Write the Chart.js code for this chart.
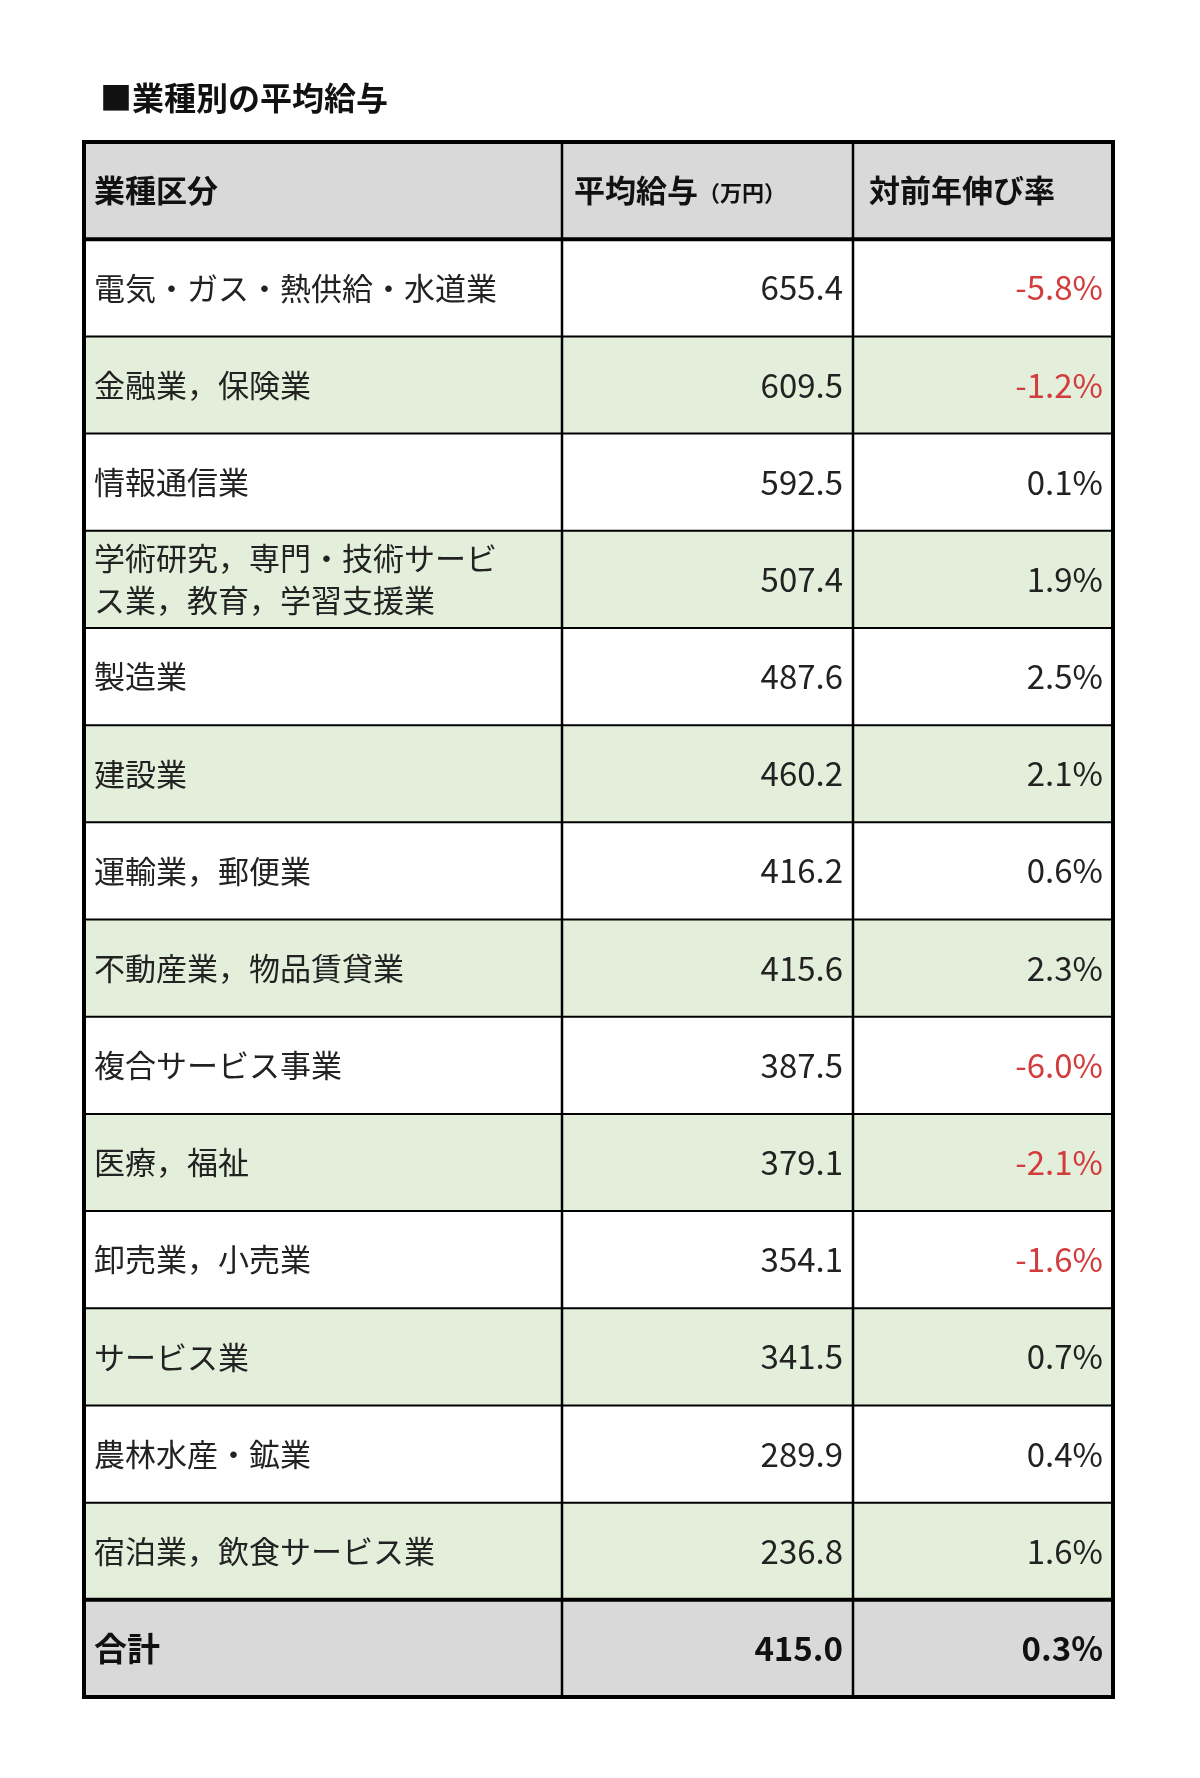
<!DOCTYPE html>
<html><head><meta charset="utf-8">
<script src="https://cdn.jsdelivr.net/npm/chart.js@4"></script>
<style>html,body{margin:0;padding:0;background:#fff}#wrap{width:1200px;height:1778px}</style>
</head><body><div id="wrap"><canvas id="c"></canvas></div>
<script>
const title = "■業種別の平均給与";
const headers = ["業種区分", "平均給与", "（万円）", "対前年伸び率"];
const categories = ["電気・ガス・熱供給・水道業","金融業，保険業","情報通信業","学術研究，専門・技術サービ\nス業，教育，学習支援業","製造業","建設業","運輸業，郵便業","不動産業，物品賃貸業","複合サービス事業","医療，福祉","卸売業，小売業","サービス業","農林水産・鉱業","宿泊業，飲食サービス業"];
const salary = [655.4,609.5,592.5,507.4,487.6,460.2,416.2,415.6,387.5,379.1,354.1,341.5,289.9,236.8];
const growth = [-5.8,-1.2,0.1,1.9,2.5,2.1,0.6,2.3,-6.0,-2.1,-1.6,0.7,0.4,1.6];
const totalLabel = "合計", totalSalary = 415.0, totalGrowth = 0.3;

const rowKeys = ["h", ...categories.map((_, i) => "r" + i), "t"];
const colEdges = [0, 478, 769, 1029];
const FONT = "'Noto Sans CJK JP','Noto Sans',sans-serif";
function rowColor(k, i) {
  if (k === "h" || k === "t") return "#d9d9d9";
  return (i % 2 === 0) ? "#e4efdb" : "#ffffff";
}
const datasets = [0,1,2].map(c => ({
  data: rowKeys.map(k => ({ y: k, x: [colEdges[c], colEdges[c+1]] })),
  backgroundColor: rowKeys.map((k, i) => rowColor(k, i)),
  borderWidth: 0, barPercentage: 1, categoryPercentage: 1, grouped: false
}));

const tablePlugin = {
  id: "tbl",
  afterDatasetsDraw(chart) {
    const ctx = chart.ctx, xs = chart.scales.x, ys = chart.scales.y;
    const n = rowKeys.length;
    const step = (ys.getPixelForValue(1) - ys.getPixelForValue(0));
    const top = ys.getPixelForValue(0) - step/2, bot = ys.getPixelForValue(n-1) + step/2;
    const L = xs.getPixelForValue(colEdges[0]), R = xs.getPixelForValue(colEdges[3]);
    ctx.save();
    ctx.strokeStyle = "#000";
    for (let i = 1; i < n; i++) {
      const y = ys.getPixelForValue(i) - step/2;
      ctx.lineWidth = (i === 1 || i === n-1) ? 4 : 2;
      ctx.beginPath(); ctx.moveTo(L, y); ctx.lineTo(R, y); ctx.stroke();
    }
    ctx.lineWidth = 2.5;
    [1,2].forEach(c => { const x = xs.getPixelForValue(colEdges[c]); ctx.beginPath(); ctx.moveTo(x, top); ctx.lineTo(x, bot); ctx.stroke(); });
    ctx.lineWidth = 4; ctx.strokeRect(L, top, R-L, bot-top);
    // title
    ctx.fillStyle = "#111"; ctx.textBaseline = "middle"; ctx.textAlign = "left";
    ctx.font = "bold 32px " + FONT; ctx.fillText(title, 100, 98);
    const pad = 10;
    const x0 = xs.getPixelForValue(colEdges[0]) + pad;
    const x1 = xs.getPixelForValue(colEdges[2]) - pad;
    const x2 = xs.getPixelForValue(colEdges[3]) - pad;
    rowKeys.forEach((k, i) => {
      const y = ys.getPixelForValue(i);
      if (k === "h") {
        ctx.fillStyle = "#111"; ctx.font = "bold 31px " + FONT; ctx.textAlign = "left";
        ctx.fillText(headers[0], x0, y);
        const hx = xs.getPixelForValue(colEdges[1]) + 12;
        ctx.fillText(headers[1], hx, y);
        const w = ctx.measureText(headers[1]).width;
        ctx.font = "bold 22px " + FONT; ctx.fillText(headers[2], hx + w, y + 2);
        ctx.font = "bold 31px " + FONT; ctx.fillText(headers[3], xs.getPixelForValue(colEdges[2]) + 16, y);
      } else if (k === "t") {
        ctx.fillStyle = "#111"; ctx.font = "bold 33px " + FONT;
        ctx.textAlign = "left"; ctx.fillText(totalLabel, x0, y);
        ctx.textAlign = "right"; ctx.fillText(totalSalary.toFixed(1), x1, y);
        ctx.fillText(totalGrowth.toFixed(1) + "%", x2, y);
      } else {
        const j = i - 1;
        ctx.fillStyle = "#222"; ctx.font = "31px " + FONT; ctx.textAlign = "left";
        const lines = categories[j].split("\n");
        lines.forEach((ln, li) => ctx.fillText(ln, x0, y + (li - (lines.length-1)/2) * 42));
        ctx.textAlign = "right"; ctx.font = "33px " + FONT;
        ctx.fillText(salary[j].toFixed(1), x1, y);
        ctx.fillStyle = growth[j] < 0 ? "#d23c3c" : "#222";
        ctx.fillText(growth[j].toFixed(1) + "%", x2, y);
      }
    });
    ctx.restore();
  }
};

new Chart(document.getElementById("c"), {
  type: "bar",
  data: { labels: rowKeys, datasets },
  options: {
    indexAxis: "y", responsive: true, maintainAspectRatio: false, animation: false,
    layout: { padding: { left: 84, right: 87, top: 142, bottom: 81 } },
    plugins: { legend: { display: false }, tooltip: { enabled: false }, title: { display: false } },
    scales: {
      x: { type: "linear", min: colEdges[0], max: colEdges[3], display: false },
      y: { type: "category", display: false, offset: true }
    }
  },
  plugins: [tablePlugin]
});
</script></body></html>
